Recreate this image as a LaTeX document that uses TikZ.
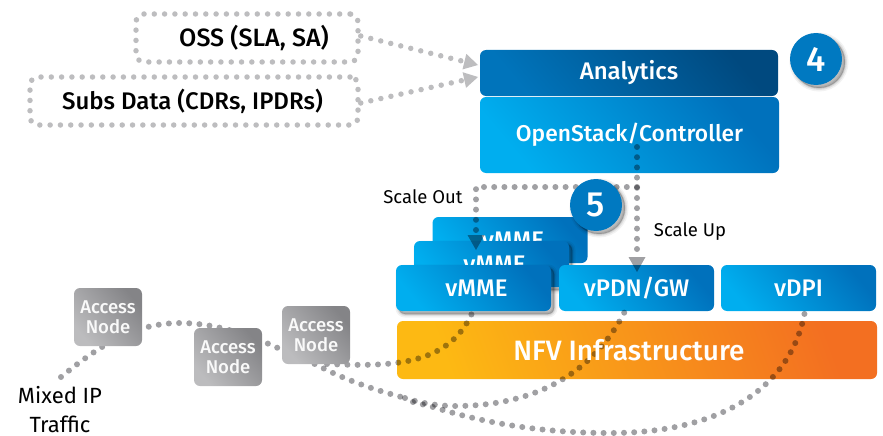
\documentclass[tikz,border=0pt]{standalone}
\usepackage{fontspec}
\setmainfont{Fira Sans}
\newfontfamily\semi{Fira Sans Medium}
\usetikzlibrary{arrows.meta,shadings,calc}
\definecolor{dotgray}{HTML}{A0A0A3}
\definecolor{lightdot}{HTML}{BDBDBF}
\definecolor{blueA}{HTML}{00AEEF}
\definecolor{blueB}{HTML}{0071BC}
\definecolor{darkA}{HTML}{0074BB}
\definecolor{darkB}{HTML}{00497F}
\definecolor{orA}{HTML}{FDB913}
\definecolor{orB}{HTML}{F36F21}
\definecolor{grA}{HTML}{BCBCBE}
\definecolor{grB}{HTML}{848487}
\definecolor{circ}{HTML}{0079C1}
\newcommand{\fs}[1]{\fontsize{#1}{#1}\selectfont}
\tikzset{
  softshadow/.style={
    preaction={draw=black,fill=black,line width=7pt,draw opacity=.05,fill opacity=.05,transform canvas={shift={(3pt,-3pt)}}},
    preaction={draw=black,fill=black,line width=4pt,draw opacity=.08,fill opacity=.08,transform canvas={shift={(3pt,-3pt)}}},
    preaction={draw=black,fill=black,line width=1.5pt,draw opacity=.12,fill opacity=.12,transform canvas={shift={(3pt,-3pt)}}}},
  boxbase/.style={rectangle,rounded corners=6pt,inner sep=0pt,text=white,align=center},
  bluebox/.style={boxbase,left color=blueA,right color=blueB,shading angle=130,font=\fs{24}\semi},
  vnf/.style={bluebox,minimum width=155pt,minimum height=46pt},
  gnode/.style={boxbase,left color=grA,right color=grB,shading angle=130,minimum width=68pt,minimum height=58pt,font=\fs{18.5}\semi,text=white!95!gray},
  badge/.style={circle,fill=circ,minimum size=52pt,inner sep=0pt,text=white,font=\fs{35}\semi,softshadow},
  dotbox/.style={rectangle,rounded corners=8pt,draw=lightdot,line width=5.5pt,line cap=round,dash pattern=on 0pt off 10.3pt,inner sep=0pt,font=\fs{25}\semi},
  dotline/.style={draw=dotgray,line width=6pt,line cap=round,dash pattern=on 0pt off 10.2pt},
  lightline/.style={draw=lightdot,line width=5.5pt,line cap=round,dash pattern=on 0pt off 10.3pt},
  tiplarge/.style={-{Triangle[length=15pt,width=17pt,line width=0pt]}},
  lab/.style={inner sep=0pt,font=\fs{18.5},align=center}
}
\begin{document}
\begin{tikzpicture}[x=1pt,y=-1pt]
\useasboundingbox (0,0) rectangle (883,436);
% dotted source boxes
\node[dotbox,minimum width=222pt,minimum height=48pt] (oss) at (247,38) {\hspace*{14pt}OSS (SLA, SA)};
\node[dotbox,minimum width=328pt,minimum height=48pt] (subs) at (194,101) {\fs{24}\hspace*{-3pt}Subs Data (CDRs, IPDRs)};
% stacks
\node[bluebox,minimum width=299pt,minimum height=76pt,font=\fs{22.8}\semi] (ctrl) at (629.5,135) {OpenStack/Controller};
\node[boxbase,left color=darkA,right color=darkB,shading angle=130,minimum width=298pt,minimum height=46pt,font=\fs{24}\semi] (ana) at (629,73) {\raisebox{-3pt}{Analytics}};
\node[vnf] (v3) at (510,240) {\hspace*{6pt}vMME};
\node[vnf,softshadow] (v2) at (491.5,264) {\hspace*{6pt}vMME};
\node[vnf,softshadow] (v1) at (473.5,288) {\hspace*{6pt}vMME};
\node[vnf] (pdn) at (636.5,288) {vPDN/GW};
\node[vnf] (dpi) at (798.5,288) {vDPI};
\node[boxbase,left color=orA,right color=orB,shading angle=110,minimum width=480pt,minimum height=58pt] (nfv) at (637,350) {};
% labels
\node[lab,font=\fs{22}] (mixed) at (60,410) {Mixed IP\\[7pt]Traffic};
\node[lab] (sout) at (423,197) {Scale Out};
\node[lab] (sup) at (690,232) {Scale Up};
% named ends of connectors
\coordinate (mixedtop) at (61,377);
\coordinate (j) at (317,365);
\coordinate (j1) at (327,364);
\coordinate (e1) at (473,311);
\coordinate (e2) at (628,305);
\coordinate (e3) at (805,311);
\coordinate (m1) at (180,323);
\coordinate (m2) at (280,349);
\coordinate (split) at (405,398);
\coordinate (split2) at (413,402);
\coordinate (b2) at (455,406);
\coordinate (b3) at (433,407);
\coordinate (b4) at (610,433);
\coordinate (topstart) at (637,147);
\coordinate (knee) at (637,187);
\coordinate (sc) at (476,187);
\coordinate (tipA) at (476,250);
\coordinate (tipB) at (637,272);
\coordinate (t1) at (478,65);
\coordinate (t2) at (478,77);
\begin{scope}[blend mode=multiply]
\draw[dotline] (mixedtop) .. controls (100,345) and (135,323) .. (m1)
  .. controls (215,323) and (250,335) .. (m2)
  .. controls (293,354) and (305,360) .. (j)
  .. controls (345,380) and (375,390) .. (split);
\draw[dotline] (j1) .. controls (395,367) and (450,365) .. (e1);
\draw[dotline] (split) .. controls (420,403) and (438,406) .. (b2)
  .. controls (545,406) and (600,365) .. (e2);
\draw[dotline] (split2) .. controls (420,404) and (426,405) .. (b3)
  .. controls (490,425) and (550,433) .. (b4)
  .. controls (725,433) and (792,385) .. (e3);
\draw[dotline,tiplarge] (topstart) -- (tipB);
\draw[dotline,tiplarge] (knee) -- (sc) -- (tipA);
\end{scope}
\draw[lightline,-{Triangle[length=14pt,width=16pt,line width=0pt]}] (oss.east |- 0,36) -- (t1);
\draw[lightline,-{Triangle[length=14pt,width=16pt,line width=0pt]}] (subs.east |- 0,103) -- (t2);
% top layer
\node[white,inner sep=0pt,font=\fs{28}\semi] (nfvt) at (nfv.center) {\hspace*{-16pt}NFV Infrastructure};
\node[gnode] (a1) at (108,317) {Access\\[1pt]Node};
\node[gnode] (a2) at (228,357) {Access\\[1pt]Node};
\node[gnode] (a3) at (316,335) {Access\\[1pt]Node};
\node[badge] (n5) at (596,205) {5};
\node[badge] (n4) at (816,59) {4};
\end{tikzpicture}
\end{document}
